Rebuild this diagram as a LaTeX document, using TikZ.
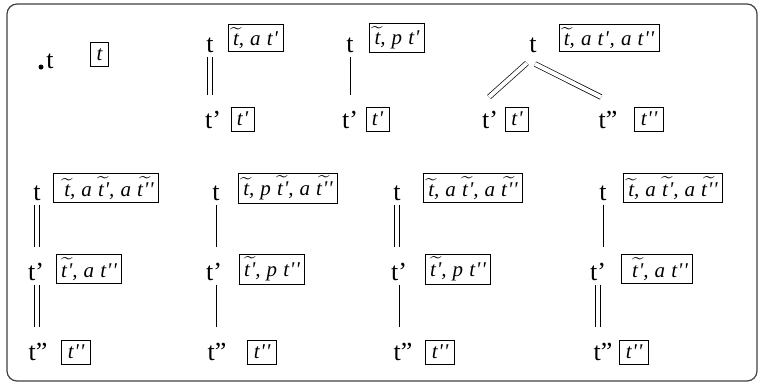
\documentclass[tikz,border=0pt]{standalone}
\usepackage{fontspec}
\setmainfont{Liberation Serif}
\newfontfamily\boxfont[LetterSpace=4]{Liberation Serif}
\usepackage{amsmath}
\newcommand\wt[1]{\ensuremath{\widetilde{\mbox{#1}}}}
\tikzset{
  lab/.style={font=\fontsize{26}{30}\selectfont, inner sep=1.5pt, anchor=base},
  bx/.style={draw, line width=0.7pt, font=\fontsize{21}{25}\boxfont\itshape, inner xsep=5pt, inner ysep=3pt, minimum height=24pt},
  sbx/.style={bx, inner xsep=6pt},
  sl/.style={line width=0.7pt, shorten <=3pt, shorten >=14pt},
  dl/.style={line width=0.7pt, double, double distance=4pt, shorten <=3pt, shorten >=14pt},
  dd/.style={line width=0.7pt, double, double distance=4pt},
}
\begin{document}
\begin{tikzpicture}[x=1pt,y=-1pt]
\useasboundingbox (0,0) rectangle (763,386);
\draw[line width=1.2pt, rounded corners=10pt, black!75] (7,4) rectangle (757,381);
% top row
\node[circle, fill, inner sep=0, minimum size=5pt] (d0) at (41,67) {};
\node[lab] (a0) at (50,68) {t};
\node[sbx] (b0) at (99.5,54.5) {t};
% tree 2
\node[lab] (a1) at (210,52) {t};
\node[bx] (b1) at (255.5,38) {\wt{t}, a t'};
\node[lab] (a1p) at (213,128) {t'};
\node[sbx] (b1p) at (242.5,119) {t'};
\draw[dl] (a1.south) -- (a1.south |- a1p.north);
% tree 3
\node[lab] (a2) at (350,52) {t};
\node[bx] (b2) at (397,38) {\wt{t}, p t'};
\node[lab] (a2p) at (350,128) {t'};
\node[sbx] (b2p) at (377.5,119) {t'};
\draw[sl] (a2.south) -- (a2.south |- a2p.north);
% tree 4
\node[lab] (a3) at (533,52) {t};
\node[bx] (b3) at (609,38) {\wt{t}, a t', a t''};
\node[lab] (a3p) at (490,128) {t'};
\node[sbx] (b3p) at (517,119) {t'};
\node[lab] (a3pp) at (608,128) {t''};
\node[sbx] (b3pp) at (649,119) {t''};
\draw[dd] ([xshift=-6pt,yshift=-9pt]a3.south) -- ([xshift=-1pt,yshift=12pt]a3p.north);
\draw[dd] ([xshift=2pt,yshift=-10pt]a3.south) -- ([xshift=-7pt,yshift=12pt]a3pp.north);
% bottom tree 1
\node[lab] (c1) at (37,200) {t};
\node[bx] (e1) at (106,188) {\hspace{6pt}\wt{t}, a \wt{t'}, a \wt{t''}};
\node[lab] (c1p) at (36,280) {t'};
\node[bx] (e1p) at (89,269) {\wt{t'}, a t''};
\node[lab] (c1pp) at (38,360) {t''};
\node[sbx] (e1pp) at (76,352) {t''};
\draw[dl] (c1.south) -- (c1.south |- c1p.north);
\draw[dl] (c1.south |- c1p.south) -- (c1.south |- c1pp.north);
% bottom tree 2
\node[lab] (c2) at (216,200) {t};
\node[bx] (e2) at (288,188) {\wt{t}, p \wt{t'}, a \wt{t''}};
\node[lab] (c2p) at (214,280) {t'};
\node[bx] (e2p) at (272,269) {\wt{t'}, p t''};
\node[lab] (c2pp) at (217,360) {t''};
\node[sbx] (e2pp) at (262,352) {t''};
\draw[sl] (c2.south) -- (c2.south |- c2p.north);
\draw[sl] (c2.south |- c2p.south) -- (c2.south |- c2pp.north);
% bottom tree 3
\node[lab] (c3) at (397,200) {t};
\node[bx] (e3) at (473,188) {\wt{t}, a \wt{t'}, a \wt{t''}};
\node[lab] (c3p) at (399,280) {t'};
\node[bx] (e3p) at (458,269) {\wt{t'}, p t''};
\node[lab] (c3pp) at (403,360) {t''};
\node[sbx] (e3pp) at (440,352) {t''};
\draw[dl] (c3.south) -- (c3.south |- c3p.north);
\draw[sl] (c3p.south) -- (c3p.south |- c3pp.north);
% bottom tree 4
\node[lab] (c4) at (603,200) {t};
\node[bx] (e4) at (673,188) {\wt{t}, a \wt{t'}, a \wt{t''}};
\node[lab] (c4p) at (598,280) {t'};
\node[bx] (e4p) at (657,269) {\hspace{6pt}\wt{t'}, a t''};
\node[lab] (c4pp) at (603,360) {t''};
\node[sbx] (e4pp) at (634,352) {t''};
\draw[sl] (c4.south) -- (c4.south |- c4p.north);
\draw[dl] (c4p.south) -- (c4p.south |- c4pp.north);
\end{tikzpicture}
\end{document}
